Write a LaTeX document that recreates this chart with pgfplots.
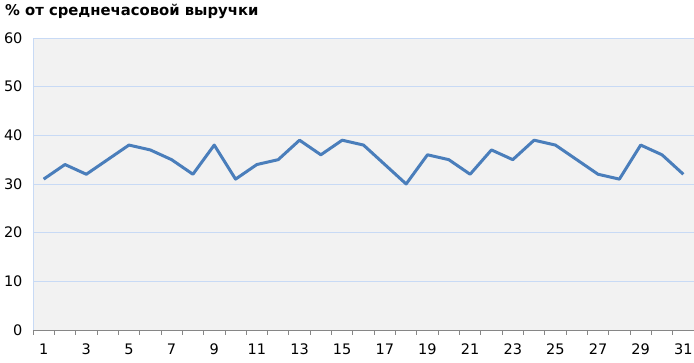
\documentclass[border=0pt]{standalone}
\usepackage{pgfplots}
\pgfplotsset{compat=1.18}
\usepackage{fontspec}
\setmainfont{DejaVu Sans}
\definecolor{bgc}{RGB}{242,242,242}
\definecolor{gridc}{RGB}{200,218,245}
\definecolor{linec}{RGB}{74,126,187}
\definecolor{axc}{RGB}{134,134,134}
\begin{document}
\begin{tikzpicture}
\useasboundingbox (0,0) rectangle (694pt,363pt);
\begin{axis}[
  at={(33pt,33pt)}, anchor=south west,
  scale only axis, width=661pt, height=292pt,
  xmin=0.5, xmax=31.5, ymin=0, ymax=60,
  axis x line=bottom, axis y line=left,
  axis line style={-},
  x axis line style={draw=axc, line width=0.8pt},
  y axis line style={draw=gridc, line width=0.8pt},
  axis background/.style={fill=bgc},
  ytick={0,10,...,60},
  xtick={1,3,...,31},
  minor xtick={0.5,1.5,...,31.5},
  major tick length=0pt,
  minor tick length=5pt,
  tick align=outside,
  minor x tick style={draw=axc, line width=0.8pt},
  ymajorgrids, major grid style={draw=gridc, line width=0.8pt},
  ticklabel style={font=\fontsize{14.5}{14.5}\selectfont},
  /pgf/number format/assume math mode=true,
  yticklabel style={xshift=-7pt},
  xticklabel style={yshift=-10pt},
  title={\% от среднечасовой выручки},
  title style={at={(axis description cs:0,1)}, anchor=base west, xshift=-28pt, yshift=16pt, font=\bfseries\fontsize{14.8}{14.8}\selectfont, inner sep=0pt},
]
\addplot[linec, line width=3pt, line join=round, mark=none] coordinates {
(1,31) (2,34) (3,32) (4,35) (5,38) (6,37) (7,35) (8,32) (9,38) (10,31)
(11,34) (12,35) (13,39) (14,36) (15,39) (16,38) (17,34) (18,30) (19,36) (20,35)
(21,32) (22,37) (23,35) (24,39) (25,38) (26,35) (27,32) (28,31) (29,38) (30,36) (31,32)
};
\end{axis}
\end{tikzpicture}
\end{document}
